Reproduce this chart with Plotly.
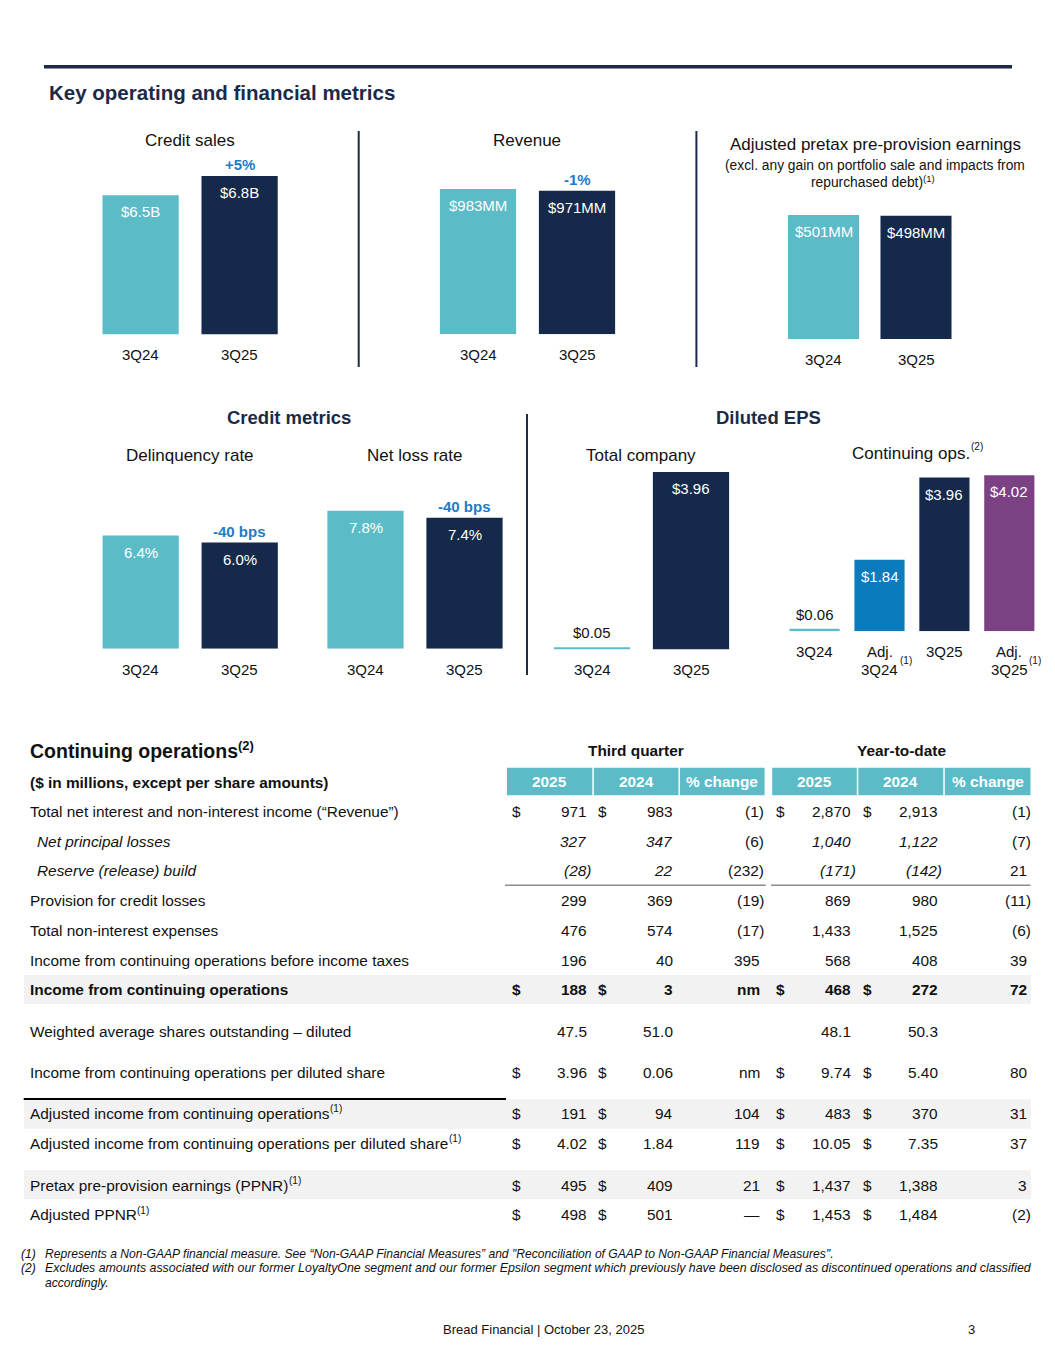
import plotly.graph_objects as go

W, H = 1055, 1365
FONT = "Liberation Sans, Arial, Helvetica, sans-serif"
TEAL = "#5BBCC8"
NAVY = "#15294B"
HEAD = "#1B2A47"
BLUE_TXT = "#1E7BC4"
ADJ_BLUE = "#0A7BBD"
PURPLE = "#7B4183"
INK = "#111111"

# ---------------- data ----------------
periods = ["3Q24", "3Q25"]
credit_sales = [6.5, 6.8]
credit_sales_text = ["$6.5B", "$6.8B"]
credit_sales_change = "+5%"
revenue = [983, 971]
revenue_text = ["$983MM", "$971MM"]
revenue_change = "-1%"
appe = [501, 498]
appe_text = ["$501MM", "$498MM"]
delinquency = [6.4, 6.0]
delinquency_text = ["6.4%", "6.0%"]
delinquency_change = "-40 bps"
net_loss = [7.8, 7.4]
net_loss_text = ["7.8%", "7.4%"]
net_loss_change = "-40 bps"
eps_total = [0.05, 3.96]
eps_total_text = ["$0.05", "$3.96"]
eps_cont_cats = ["3Q24", "Adj. 3Q24", "3Q25", "Adj. 3Q25"]
eps_cont = [0.06, 1.84, 3.96, 4.02]
eps_cont_text = ["$0.06", "$1.84", "$3.96", "$4.02"]

row_labels = [
    "Total net interest and non-interest income (\u201cRevenue\u201d)",
    "Net principal losses",
    "Reserve (release) build",
    "Provision for credit losses",
    "Total non-interest expenses",
    "Income from continuing operations before income taxes",
    "Income from continuing operations",
    "Weighted average shares outstanding \u2013 diluted",
    "Income from continuing operations per diluted share",
    "Adjusted income from continuing operations",
    "Adjusted income from continuing operations per diluted share",
    "Pretax pre-provision earnings (PPNR)",
    "Adjusted PPNR",
]
row_notes = ["", "", "", "", "", "", "", "", "", "(1)", "(1)", "(1)", "(1)"]
q3_2025 = ["971", "327", "(28)", "299", "476", "196", "188", "47.5", "3.96", "191", "4.02", "495", "498"]
q3_2024 = ["983", "347", "22", "369", "574", "40", "3", "51.0", "0.06", "94", "1.84", "409", "501"]
q3_change = ["(1)", "(6)", "(232)", "(19)", "(17)", "395", "nm", "", "nm", "104", "119", "21", "\u2014"]
ytd_2025 = ["2,870", "1,040", "(171)", "869", "1,433", "568", "468", "48.1", "9.74", "483", "10.05", "1,437", "1,453"]
ytd_2024 = ["2,913", "1,122", "(142)", "980", "1,525", "408", "272", "50.3", "5.40", "370", "7.35", "1,388", "1,484"]
ytd_change = ["(1)", "(7)", "21", "(11)", "(6)", "39", "72", "", "80", "31", "37", "3", "(2)"]
dollar_rows = [True, False, False, False, False, False, True, False, True, True, True, True, True]
column_headers = ["2025", "2024", "% change", "2025", "2024", "% change"]

# ---------------- text metrics (Liberation Sans = Arial metrics) ----------------
REG = {" ": 278, "(": 333, ")": 333, "-": 333, "A": 667, "N": 722, "P": 667, "R": 722,
       "a": 556, "b": 556, "c": 500, "d": 556, "e": 556, "f": 278, "g": 556, "h": 556,
       "i": 222, "j": 222, "k": 500, "l": 222, "m": 833, "n": 556, "o": 556, "p": 556,
       "r": 333, "s": 500, "t": 278, "u": 556, "v": 500, "w": 722, "x": 500, "y": 500}
BOLD = {" ": 278, "C": 722, "o": 611, "n": 611, "t": 333, "i": 278, "u": 611, "g": 611,
        "p": 611, "e": 556, "r": 389, "a": 556, "s": 556}

def text_width(s, size, bold=False):
    table = BOLD if bold else REG
    return sum(table.get(ch, 556) for ch in s) * size / 1000.0

# ---------------- helpers ----------------
def X(px):
    return px / W

def Y(py):
    return 1 - py / H

annotations = []
shapes = []
PAD = 1.5

def text(t, x, y, size=15, color=INK, xanchor="center", yanchor="middle", **kw):
    if xanchor == "left":
        x -= PAD
    elif xanchor == "right":
        x += PAD
    annotations.append(dict(text=t, x=X(x), y=Y(y), xref="paper", yref="paper",
                            showarrow=False, xanchor=xanchor, yanchor=yanchor,
                            font=dict(size=size, color=color, family=FONT), **kw))

def line(x0, y0, x1, y1, color, width):
    shapes.append(dict(type="line", xref="paper", yref="paper", x0=X(x0), y0=Y(y0),
                       x1=X(x1), y1=Y(y1), line=dict(color=color, width=width)))

def rect(x0, y0, x1, y1, color):
    shapes.append(dict(type="rect", xref="paper", yref="paper", x0=X(x0), y0=Y(y0),
                       x1=X(x1), y1=Y(y1), fillcolor=color, line=dict(width=0), layer="below"))

fig = go.Figure()

charts = [
    dict(cats=periods, vals=credit_sales, txt=credit_sales_text, change=credit_sales_change,
         colors=[TEAL, NAVY], xd=(91.1, 289.1), yd=(334.3, 165), rng=(4.338, 6.971), w=0.77,
         pos=["in", "in"], tick_y=354.7),
    dict(cats=periods, vals=revenue, txt=revenue_text, change=revenue_change,
         colors=[TEAL, NAVY], xd=(428.5, 626.5), yd=(334.3, 165), rng=(0, 1145.5), w=0.77,
         pos=["in", "in"], tick_y=354.7),
    dict(cats=periods, vals=appe, txt=appe_text, change=None,
         colors=[TEAL, NAVY], xd=(777.25, 962.25), yd=(339, 200), rng=(0, 561.6), w=0.768,
         pos=["in", "in"], tick_y=359.3),
    dict(cats=periods, vals=delinquency, txt=delinquency_text, change=delinquency_change,
         colors=[TEAL, NAVY], xd=(91.2, 289.2), yd=(648.7, 480), rng=(0, 9.537), w=0.77,
         pos=["in", "in"], tick_y=669.3),
    dict(cats=periods, vals=net_loss, txt=net_loss_text, change=net_loss_change,
         colors=[TEAL, NAVY], xd=(316.0, 514.0), yd=(648.7, 480), rng=(0, 9.537), w=0.77,
         pos=["in", "in"], tick_y=669.3),
    dict(cats=periods, vals=eps_total, txt=eps_total_text, change=None,
         colors=[TEAL, NAVY], xd=(542.5, 740.5), yd=(649.4, 460), rng=(0, 4.228), w=0.77,
         pos=["above", "in"], tick_y=669.3),
    dict(cats=eps_cont_cats, vals=eps_cont, txt=eps_cont_text, change=None,
         colors=[TEAL, ADJ_BLUE, NAVY, PURPLE], xd=(782.15, 1041.75), yd=(631.2, 460), rng=(0, 4.412), w=0.773,
         pos=["above", "in", "in", "in"], tick_y=None),
]

def axis_ann(t, cat, y, xa, yref, yshift=0, size=15, color=INK, xshift=0):
    annotations.append(dict(text=t, x=cat, y=y, xref=xa, yref=yref, showarrow=False,
                            xanchor="center", yanchor="middle", yshift=yshift, xshift=xshift,
                            font=dict(size=size, family=FONT, color=color)))

layout_axes = {}
for i, c in enumerate(charts, start=1):
    xa = "x" if i == 1 else f"x{i}"
    ya = "y" if i == 1 else f"y{i}"
    fig.add_trace(go.Bar(x=c["cats"], y=c["vals"], xaxis=xa, yaxis=ya, width=c["w"],
                         marker=dict(color=c["colors"], line=dict(width=0)),
                         hoverinfo="skip", showlegend=False))
    layout_axes["xaxis" if i == 1 else f"xaxis{i}"] = dict(
        domain=[X(c["xd"][0]), X(c["xd"][1])], type="category", range=[-0.5, len(c["cats"]) - 0.5],
        showticklabels=False, showgrid=False, zeroline=False, showline=False, ticks="",
        fixedrange=True, anchor=ya)
    layout_axes["yaxis" if i == 1 else f"yaxis{i}"] = dict(
        domain=[Y(c["yd"][0]), Y(c["yd"][1])], range=list(c["rng"]), visible=False,
        fixedrange=True, anchor=xa)
    for cat, v, t, p in zip(c["cats"], c["vals"], c["txt"], c["pos"]):
        axis_ann(t, cat, v, xa, ya, yshift=-16.7 if p == "in" else 14.5,
                 color="white" if p == "in" else INK)
    if c["change"]:
        axis_ann(f"<b>{c['change']}</b>", c["cats"][-1], c["vals"][-1], xa, ya, yshift=11.5,
                 color=BLUE_TXT)
    if c["tick_y"] is not None:
        for cat in c["cats"]:
            axis_ann(cat, cat, Y(c["tick_y"]), xa, "paper")
    else:
        for cat in c["cats"]:
            if cat.startswith("Adj. "):
                axis_ann("Adj.", cat, Y(651), xa, "paper")
                axis_ann(cat[5:], cat, Y(669.3), xa, "paper")
                axis_ann("(1)", cat, Y(660), xa, "paper", size=10, xshift=26)
            else:
                axis_ann(cat, cat, Y(651), xa, "paper")

# ---------------- page furniture ----------------
line(44, 66.7, 1012, 66.7, HEAD, 3.5)
text("<b>Key operating and financial metrics</b>", 48, 92.3, size=20.5, color=HEAD, xanchor="left")

text("Credit sales", 189.5, 141, size=17)
text("Revenue", 526.5, 141, size=17)
text("Adjusted pretax pre-provision earnings", 875, 145, size=17)
text("(excl. any gain on portfolio sale and impacts from", 874.5, 165, size=13.8)
sub2 = "repurchased debt)"
w_sub2 = text_width(sub2, 13.8)
w_note = text_width("(1)", 9.5)
sub2_left = 872 - (w_sub2 + w_note) / 2
text(sub2, sub2_left, 182.3, size=13.8, xanchor="left")
text("(1)", sub2_left + w_sub2 + 0.5, 179, size=9.5, xanchor="left")

line(358.7, 131, 358.7, 367, HEAD, 2)
line(696.4, 131, 696.4, 367, HEAD, 2)

text("<b>Credit metrics</b>", 288.7, 417, size=18.5, color=HEAD)
text("<b>Diluted EPS</b>", 768, 417, size=18.5, color=HEAD)
text("Delinquency rate", 189.5, 455.7, size=17)
text("Net loss rate", 414.9, 455.7, size=17)
text("Total company", 640.5, 455.7, size=17)
text("Continuing ops.", 910.6, 453.3, size=17)
text("(2)", 977, 446.7, size=10)
line(527, 414, 527, 675, HEAD, 2)

# ---------------- table ----------------
TS = 15.4
title_txt = "Continuing operations"
text(f"<b>{title_txt}</b>", 29.4, 750.7, size=19.5, xanchor="left")
text("<b>(2)</b>", 29.4 + text_width(title_txt, 19.5, bold=True) + 0.5, 745.5, size=13, xanchor="left")
text("<b>($ in millions, except per share amounts)</b>", 29.4, 782.7, size=TS, xanchor="left")
text("<b>Third quarter</b>", 636, 750.7, size=TS)
text("<b>Year-to-date</b>", 901, 750.7, size=TS)

cells = [(507, 592.3), (593.8, 678.5), (680, 764.6), (772.2, 856.8), (858.3, 943.3), (944.8, 1030.5)]
for (x0, x1), h in zip(cells, column_headers):
    rect(x0, 767.7, x1, 795.3, TEAL)
    text(f"<b>{h}</b>", (x0 + x1) / 2, 781.5, size=TS, color="white")

row_y = [811.7, 841.3, 871, 900.7, 930, 960, 989.7, 1031, 1072.3, 1113.3, 1143.3, 1185, 1214.7]

rect(24, 975, 1031, 1004.3, "#F2F2F2")
rect(24, 1099.3, 1031, 1128.7, "#F2F2F2")
rect(24, 1170, 1031, 1199.3, "#F2F2F2")
line(505, 885.3, 765.7, 885.3, "#8C8C8C", 1.5)
line(771, 885.3, 1030.5, 885.3, "#8C8C8C", 1.5)
line(23.7, 1099, 506, 1099, "#000000", 2)

col_right = [587, 673, 760, 851.5, 938, 1027]
dollar_x = [511, 597.4, 775.8, 862.2]
italic_rows = {1, 2}
bold_rows = {6}
columns = [q3_2025, q3_2024, q3_change, ytd_2025, ytd_2024, ytd_change]
value_cols_italic = {0, 1, 3, 4}

for r, (lab, y) in enumerate(zip(row_labels, row_y)):
    t = lab
    if r in italic_rows:
        t = f"<i>{t}</i>"
    if r in bold_rows:
        t = f"<b>{t}</b>"
    lx = 36.2 if r in italic_rows else 29.4
    text(t, lx, y, size=TS, xanchor="left")
    if row_notes[r]:
        text(row_notes[r], lx + text_width(lab, TS) + 0.5, y - 4.5, size=10, xanchor="left")
    if dollar_rows[r]:
        for dx in dollar_x:
            text("<b>$</b>" if r in bold_rows else "$", dx, y, size=TS, xanchor="left")
    for ci, col in enumerate(columns):
        v = col[r]
        if not v:
            continue
        xr = col_right[ci] + (4.5 if v.endswith(")") else 0)
        tv = v
        if r in italic_rows and ci in value_cols_italic:
            tv = f"<i>{tv}</i>"
        if r in bold_rows:
            tv = f"<b>{tv}</b>"
        text(tv, xr, y, size=TS, xanchor="right")

# ---------------- footnotes ----------------
text("<i>(1)</i>", 20.2, 1254, size=12.1, xanchor="left")
text("<i>Represents a Non-GAAP financial measure. See \u201cNon-GAAP Financial Measures\u201d and \"Reconciliation of GAAP to Non-GAAP Financial Measures\".</i>",
     44.4, 1254, size=12.1, xanchor="left")
text("<i>(2)</i>", 20.2, 1268.3, size=12.1, xanchor="left")
text("<i>Excludes amounts associated with our former LoyaltyOne segment and our former Epsilon segment which previously have been disclosed as discontinued operations and classified</i>",
     44.4, 1268.3, size=12.38, xanchor="left")
text("<i>accordingly.</i>", 44.4, 1283.3, size=12.1, xanchor="left")
text("Bread Financial | October 23, 2025", 543.4, 1329, size=13)
text("3", 971, 1329, size=13)

fig.update_layout(
    width=W, height=H, autosize=False,
    margin=dict(l=0, r=0, t=0, b=0, pad=0),
    paper_bgcolor="white", plot_bgcolor="rgba(0,0,0,0)",
    font=dict(family=FONT, color=INK),
    showlegend=False, barmode="group",
    annotations=annotations, shapes=shapes,
    **layout_axes,
)

fig.write_html("out.html", config={"displayModeBar": False, "staticPlot": True},
               post_script="document.body.style.margin='0';")
